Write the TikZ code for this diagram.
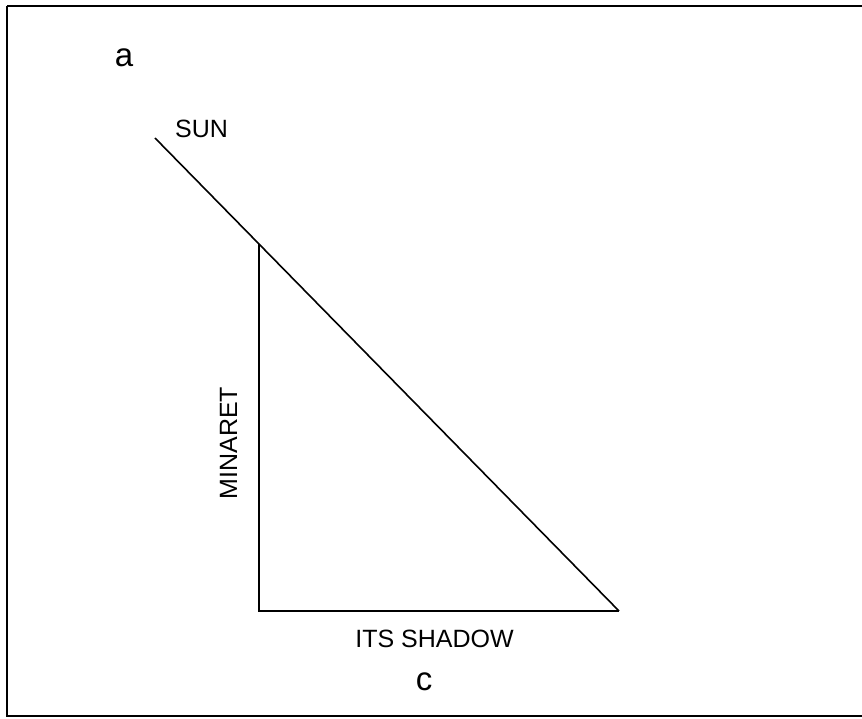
\documentclass[tikz,border=0pt]{standalone}
\usepackage{fontspec}
\setmainfont{Liberation Sans}
\begin{document}
\begin{tikzpicture}[x=1pt,y=-1pt,
  lbl/.style={inner sep=0pt,anchor=base,font=\fontsize{25}{30}\selectfont},
  big/.style={inner sep=0pt,anchor=base,font=\fontsize{33}{38}\selectfont},
  ln/.style={line width=1.6pt}]
\useasboundingbox (0,0) rectangle (862,719);
\draw[line width=2pt] (7,6) -- (880,6) (7,6) -- (7,716) -- (880,716);
\coordinate (sun) at (155,138);
\coordinate (top) at (259,244);
\coordinate (foot) at (259,611);
\coordinate (tip) at (619,611);
\draw[ln] (sun) -- (tip);
\draw[ln] (top) -- (foot) -- (tip);
\node[big] (a) at (124,67) {a};
\node[lbl] (sunl) at (201.5,138) {SUN};
\node[lbl,rotate=90] (min) at (237,443) {MINARET};
\node[lbl] (shadow) at (434.5,647) {ITS SHADOW};
\node[big] (c) at (424,690) {c};
\end{tikzpicture}
\end{document}
